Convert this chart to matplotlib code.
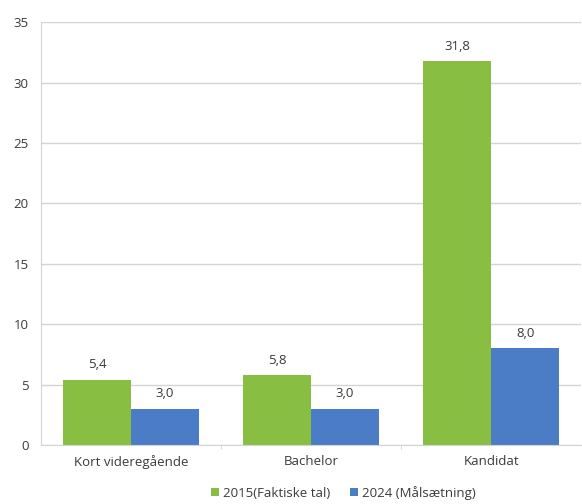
import matplotlib

matplotlib.use("Agg")
import matplotlib.pyplot as plt
import numpy as np

categories = ["Kort videregående", "Bachelor", "Kandidat"]
series_names = ["2015(Faktiske tal)", "2024 (Målsætning)"]
values_2015 = [5.4, 5.8, 31.8]
values_2024 = [3.0, 3.0, 8.0]

GREEN = "#88BF43"
BLUE = "#4A7DC6"
TEXT = "#3A3A3A"
GRID = "#D4D4D4"
FS = 9.5

plt.rcParams["font.family"] = ["Open Sans", "DejaVu Sans"]

fig = plt.figure(figsize=(5.82, 5.04), dpi=100)
ax = fig.add_axes([0.0705, 0.117, 0.928, 0.839])

x = np.arange(len(categories))
w = 0.378
b1 = ax.bar(x - w / 2, values_2015, w, color=GREEN, label=series_names[0])
b2 = ax.bar(x + w / 2, values_2024, w, color=BLUE, label=series_names[1])

for bars in (b1, b2):
    for bar in bars:
        h = bar.get_height()
        ax.annotate(f"{h:.1f}".replace(".", ","),
                    (bar.get_x() + bar.get_width() / 2, h),
                    xytext=(0, 6), textcoords="offset points",
                    ha="center", va="bottom", fontsize=FS, color=TEXT)

ax.set_xlim(-0.5, 2.5)
ax.set_ylim(0, 35)
ax.set_yticks(range(0, 36, 5))
ax.set_xticks(x)
ax.set_xticklabels(categories)
ax.set_xticks([0.5, 1.5], minor=True)
ax.tick_params(axis="x", which="major", length=0, pad=7, labelsize=FS, labelcolor=TEXT)
ax.tick_params(axis="x", which="minor", length=3, color=GRID, direction="out")
ax.tick_params(axis="y", length=0, pad=9, labelsize=FS, labelcolor=TEXT)

ax.yaxis.grid(True, color=GRID, linewidth=1)
ax.set_axisbelow(True)
for s in ("top", "right"):
    ax.spines[s].set_visible(False)
ax.spines["left"].set_color(GRID)
ax.spines["bottom"].set_color(GRID)

fig.legend(handles=[b1, b2], loc="center", bbox_to_anchor=(0.59, 0.022),
           ncol=2, frameon=False, fontsize=FS, handlelength=0.6, handleheight=0.6,
           handletextpad=0.3, columnspacing=1.5, labelcolor=TEXT)

fig.savefig("out.png", dpi=100, facecolor="white")
plt.close(fig)
